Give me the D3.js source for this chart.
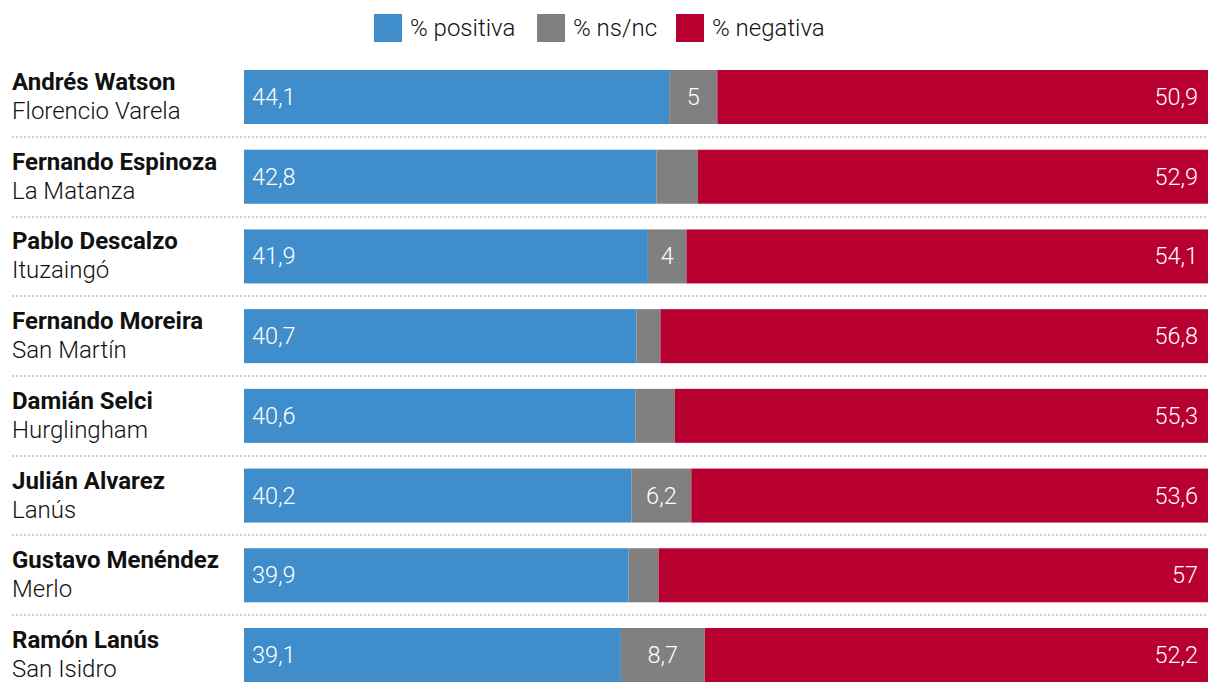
<!DOCTYPE html>
<html><head><meta charset="utf-8">
<script src="https://cdn.jsdelivr.net/npm/d3@7"></script>
<style>body{margin:0;background:#fff}svg{display:block}</style>
</head><body>
<script>
const names = ["Andrés Watson","Fernando Espinoza","Pablo Descalzo","Fernando Moreira","Damián Selci","Julián Alvarez","Gustavo Menéndez","Ramón Lanús"];
const districts = ["Florencio Varela","La Matanza","Ituzaingó","San Martín","Hurglingham","Lanús","Merlo","San Isidro"];
const positiva = [44.1,42.8,41.9,40.7,40.6,40.2,39.9,39.1];
const nsnc = [5,4.3,4,2.5,4.1,6.2,3.1,8.7];
const negativa = [50.9,52.9,54.1,56.8,55.3,53.6,57,52.2];
const nsncLabels = ["5","","4","","","6,2","","8,7"];
const seriesNames = ["% positiva","% ns/nc","% negativa"];
const colors = ["#3f8dca","#808080","#b80030"];

const W=1220,H=694;
const svg=d3.select("body").append("svg").attr("width",W).attr("height",H);
const font="Roboto, sans-serif";

const x=d3.scaleLinear().domain([0,100]).range([244,1208]);
const y=d3.scaleBand().domain(names).range([70,682]).paddingInner(0.3224).paddingOuter(0);

const rows=names.map((n,i)=>({name:n,district:districts[i],vals:[positiva[i],nsnc[i],negativa[i]],labels:[String(positiva[i]).replace(".",","),nsncLabels[i],String(negativa[i]).replace(".",",")]}));

// separators
names.forEach((n,i)=>{
  if(i===0) return;
  const yy=Math.round(y(n)-(y.step()-y.bandwidth())/2);
  svg.append("line").attr("x1",12).attr("x2",1208).attr("y1",yy).attr("y2",yy)
    .attr("stroke","#d0d0d0").attr("stroke-width",2).attr("stroke-dasharray","2,2");
});

const g=svg.selectAll("g.row").data(rows).enter().append("g").attr("class","row");
g.each(function(d){
  const gg=d3.select(this);
  const y0=y(d.name), bh=y.bandwidth();
  let acc=0;
  d.vals.forEach((v,k)=>{
    gg.append("rect").attr("x",x(acc)).attr("width",x(acc+v)-x(acc)).attr("y",y0).attr("height",bh).attr("fill",colors[k]);
    if(d.labels[k]){
      let tx,anchor;
      if(k===0){tx=x(acc)+8;anchor="start";}
      else if(k===1){tx=(x(acc)+x(acc+v))/2;anchor="middle";}
      else {tx=x(acc+v)-10;anchor="end";}
      gg.append("text").attr("x",tx).attr("y",y0+bh/2+8).attr("text-anchor",anchor)
        .attr("fill","#fff").style("font-family",font).style("font-weight",300).style("font-size","23.5px").text(d.labels[k]);
    }
    acc+=v;
  });
  gg.append("text").attr("x",12).attr("y",y0+20).style("font-family",font).style("font-weight",700)
    .style("font-size","24px").attr("fill","#111").text(d.name);
  gg.append("text").attr("x",12).attr("y",y0+49).style("font-family",font).style("font-weight",300)
    .style("font-size","24px").attr("fill","#111").text(d.district);
});

// legend
const legX=[374,537,676];
seriesNames.forEach((s,k)=>{
  svg.append("rect").attr("x",legX[k]).attr("y",14).attr("width",28).attr("height",28).attr("fill",colors[k]);
  svg.append("text").attr("x",legX[k]+36).attr("y",36).style("font-family",font).style("font-weight",300)
    .style("font-size","24px").attr("fill","#111").text(s);
});
</script>
</body></html>
